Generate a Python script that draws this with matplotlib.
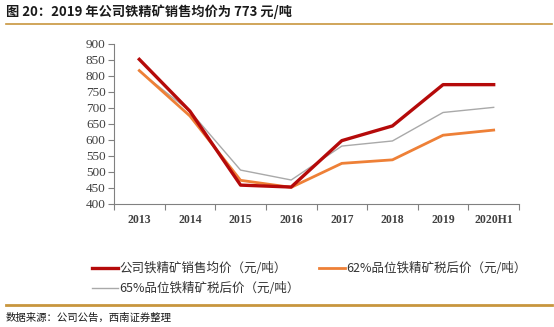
import matplotlib
matplotlib.use("Agg")
import matplotlib.pyplot as plt
from matplotlib.lines import Line2D

plt.rcParams['font.family'] = ['Noto Sans CJK SC', 'DejaVu Sans']

categories = ["2013", "2014", "2015", "2016", "2017", "2018", "2019", "2020H1"]
company_avg = [852, 690, 459, 453, 598, 644, 773, 773]
grade62 = [817, 675, 474, 452, 527, 538, 615, 631]
grade65 = [815, 690, 506, 475, 581, 597, 686, 702]
yticks = [400, 450, 500, 550, 600, 650, 700, 750, 800, 850, 900]

W, H = 554, 327
fig = plt.figure(figsize=(W / 100, H / 100), dpi=100)
ax = fig.add_axes([114 / W, 1 - 204 / H, (519 - 114) / W, 160 / H])

x = list(range(len(categories)))
ax.plot(x, grade65, color="#A9A9A9", lw=1.0, zorder=2)
ax.plot(x, grade62, color="#EE8037", lw=2.0, zorder=3)
ax.plot(x, company_avg, color="#B50A0A", lw=2.4, zorder=4)

ax.set_xlim(-0.5, len(categories) - 0.5)
ax.set_ylim(400, 900)
ax.set_yticks(yticks)
ax.set_yticklabels([str(v) for v in yticks], family="Liberation Serif", fontsize=9.5, color="#404040")
ax.set_xticks([i + 0.5 for i in range(-1, len(categories))], minor=False)
ax.set_xticklabels([])
ax.set_xticks(x, minor=True)
ax.set_xticklabels(categories, minor=True, family="Liberation Serif", fontsize=8.5,
                   fontweight="bold", color="#404040")
ax.tick_params(axis="x", which="minor", length=0, pad=7)
ax.tick_params(axis="x", which="major", length=4, direction="out", color="#808080")
ax.tick_params(axis="y", length=4, direction="out", color="#808080", pad=2)
for s in ["top", "right"]:
    ax.spines[s].set_visible(False)
for s in ["left", "bottom"]:
    ax.spines[s].set_color("#808080")
    ax.spines[s].set_linewidth(0.8)

# legend (row-major order in reference: company, 62%; then 65%)
h_company = Line2D([], [], color="#B50A0A", lw=2.4)
h_62 = Line2D([], [], color="#EE8037", lw=2.0)
h_65 = Line2D([], [], color="#A9A9A9", lw=1.0)
handles = [h_company, h_65, h_62]
labels = ["公司铁精矿销售均价（元/吨）", "65%品位铁精矿税后价（元/吨）", "62%品位铁精矿税后价（元/吨）"]
leg = fig.legend(handles, labels, loc="upper left", bbox_to_anchor=(92 / W, 1 - 262 / H),
                 ncol=2, frameon=False, fontsize=9, handlelength=2.1, handletextpad=0.1,
                 columnspacing=1.5, labelspacing=0.55, borderaxespad=0, borderpad=0)
for t in leg.get_texts():
    t.set_color("#333333")

# title and rules
fig.text(6 / W, 1 - 12 / H, "图 20：2019 年公司铁精矿销售均价为 773 元/吨", fontsize=9.5,
         fontweight="bold", va="center", ha="left", color="#1a1a1a")
fig.add_artist(Line2D([6 / W, 552 / W], [1 - 23.5 / H, 1 - 23.5 / H], color="#C8963E", lw=1.2))
fig.add_artist(Line2D([6 / W, 552 / W], [1 - 305 / H, 1 - 305 / H], color="#C8963E", lw=2.0))
fig.text(6 / W, 1 - 318 / H, "数据来源：公司公告，西南证券整理", fontsize=7.5, style="italic",
         va="center", ha="left", color="#1a1a1a")

fig.savefig("out.png", dpi=100)
